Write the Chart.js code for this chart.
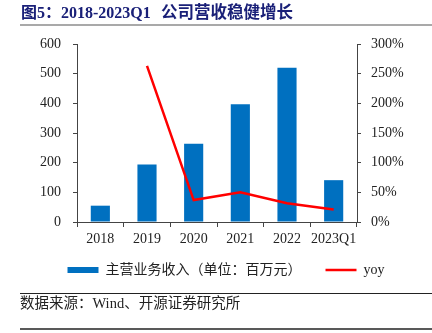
<!DOCTYPE html>
<html>
<head>
<meta charset="utf-8">
<script src="https://cdn.jsdelivr.net/npm/chart.js@4"></script>
<style>
  html, body { margin: 0; padding: 0; background: #fff; }
  #wrap { width: 432px; height: 333px; }
</style>
</head>
<body>
<div id="wrap"><canvas id="chart" width="432" height="333"></canvas></div>
<script>
const categories = ["2018", "2019", "2020", "2021", "2022", "2023Q1"];
const revenue = [55, 194, 264, 397, 520, 141];
const yoy = [null, 263, 37, 50, 31.5, 21];
const leftTicks = [0, 600, 100];
const rightTicks = [0, 300, 50];

const SOURCE = "数据来源：Wind、开源证券研究所";
const SERIF = "'Liberation Serif', 'Noto Sans CJK SC', serif";

// titulo, lineas y fuente
const decor = {
  id: "decor",
  afterLayout(chart) {
    // subir la leyenda un poco
    chart.legend.top -= 10;
    chart.legend.bottom -= 10;
  },
  afterDraw(chart) {
    const c = chart.ctx;
    c.save();
    c.fillStyle = "#1a2078";
    c.textBaseline = "middle";
    c.font = "bold 16px " + SERIF;
    c.fillText("图5：2018-2023Q1", 21, 14);
    c.font = "bold 16.5px " + SERIF;
    c.fillText("公司营收稳健增长", 161, 14);
    c.strokeStyle = "#8c8c8c";
    c.lineWidth = 1.5;
    c.beginPath(); c.moveTo(20, 25); c.lineTo(432, 25); c.stroke();
    c.strokeStyle = "#222";
    c.lineWidth = 1;
    c.beginPath(); c.moveTo(20, 293.5); c.lineTo(432, 293.5); c.stroke();
    c.lineWidth = 1.5;
    c.beginPath(); c.moveTo(20, 329); c.lineTo(432, 329); c.stroke();
    c.fillStyle = "#222";
    c.font = "14.5px " + SERIF;
    c.fillText(SOURCE, 20, 304);
    c.restore();
  }
};

const axisLine = { display: true, color: "#444", width: 1 };
const tickFont = { family: SERIF, size: 14 };

new Chart(document.getElementById("chart"), {
  data: {
    labels: categories,
    datasets: [
      {
        type: "bar",
        label: "主营业务收入（单位：百万元）",
        data: revenue,
        backgroundColor: "#0070c0",
        borderWidth: 0,
        categoryPercentage: 1,
        barPercentage: 0.41,
        pointStyle: "rect",
        yAxisID: "y",
        order: 1
      },
      {
        type: "line",
        label: "yoy",
        data: yoy,
        borderColor: "#ff0000",
        backgroundColor: "#ff0000",
        borderWidth: 2.5,
        pointRadius: 0,
        pointStyle: "line",
        tension: 0,
        yAxisID: "y1",
        order: 0
      }
    ]
  },
  options: {
    responsive: false,
    animation: false,
    layout: { padding: { left: 20, right: 0, top: 44, bottom: 36 } },
    plugins: {
      tooltip: { enabled: false },
      legend: {
        position: "bottom",
        labels: {
          usePointStyle: true,
          pointStyleWidth: 31,
          boxHeight: 6,
          padding: 24,
          color: "#222",
          font: { family: SERIF, size: 14 },
          sort: (a, b) => a.datasetIndex - b.datasetIndex
        }
      }
    },
    scales: {
      x: {
        offset: true,
        grid: { drawOnChartArea: false, drawTicks: true, tickLength: 5, color: "#444", offset: true },
        border: axisLine,
        ticks: { color: "#222", font: tickFont, padding: 4, maxRotation: 0, autoSkip: false },
        afterFit: s => { s.height = 27; }
      },
      y: {
        position: "left",
        min: leftTicks[0],
        max: leftTicks[1],
        grid: { drawOnChartArea: false, drawTicks: true, tickLength: 4, color: "#444" },
        border: axisLine,
        ticks: { stepSize: leftTicks[2], color: "#222", font: tickFont, padding: 12 },
        afterFit: s => { s.width = 57; }
      },
      y1: {
        position: "right",
        min: rightTicks[0],
        max: rightTicks[1],
        grid: { drawOnChartArea: false, drawTicks: true, tickLength: 4, color: "#444" },
        border: axisLine,
        ticks: { stepSize: rightTicks[2], color: "#222", font: tickFont, padding: 10, callback: v => v + "%" },
        afterFit: s => { s.width = 75; }
      }
    }
  },
  plugins: [decor]
});
</script>
</body>
</html>
